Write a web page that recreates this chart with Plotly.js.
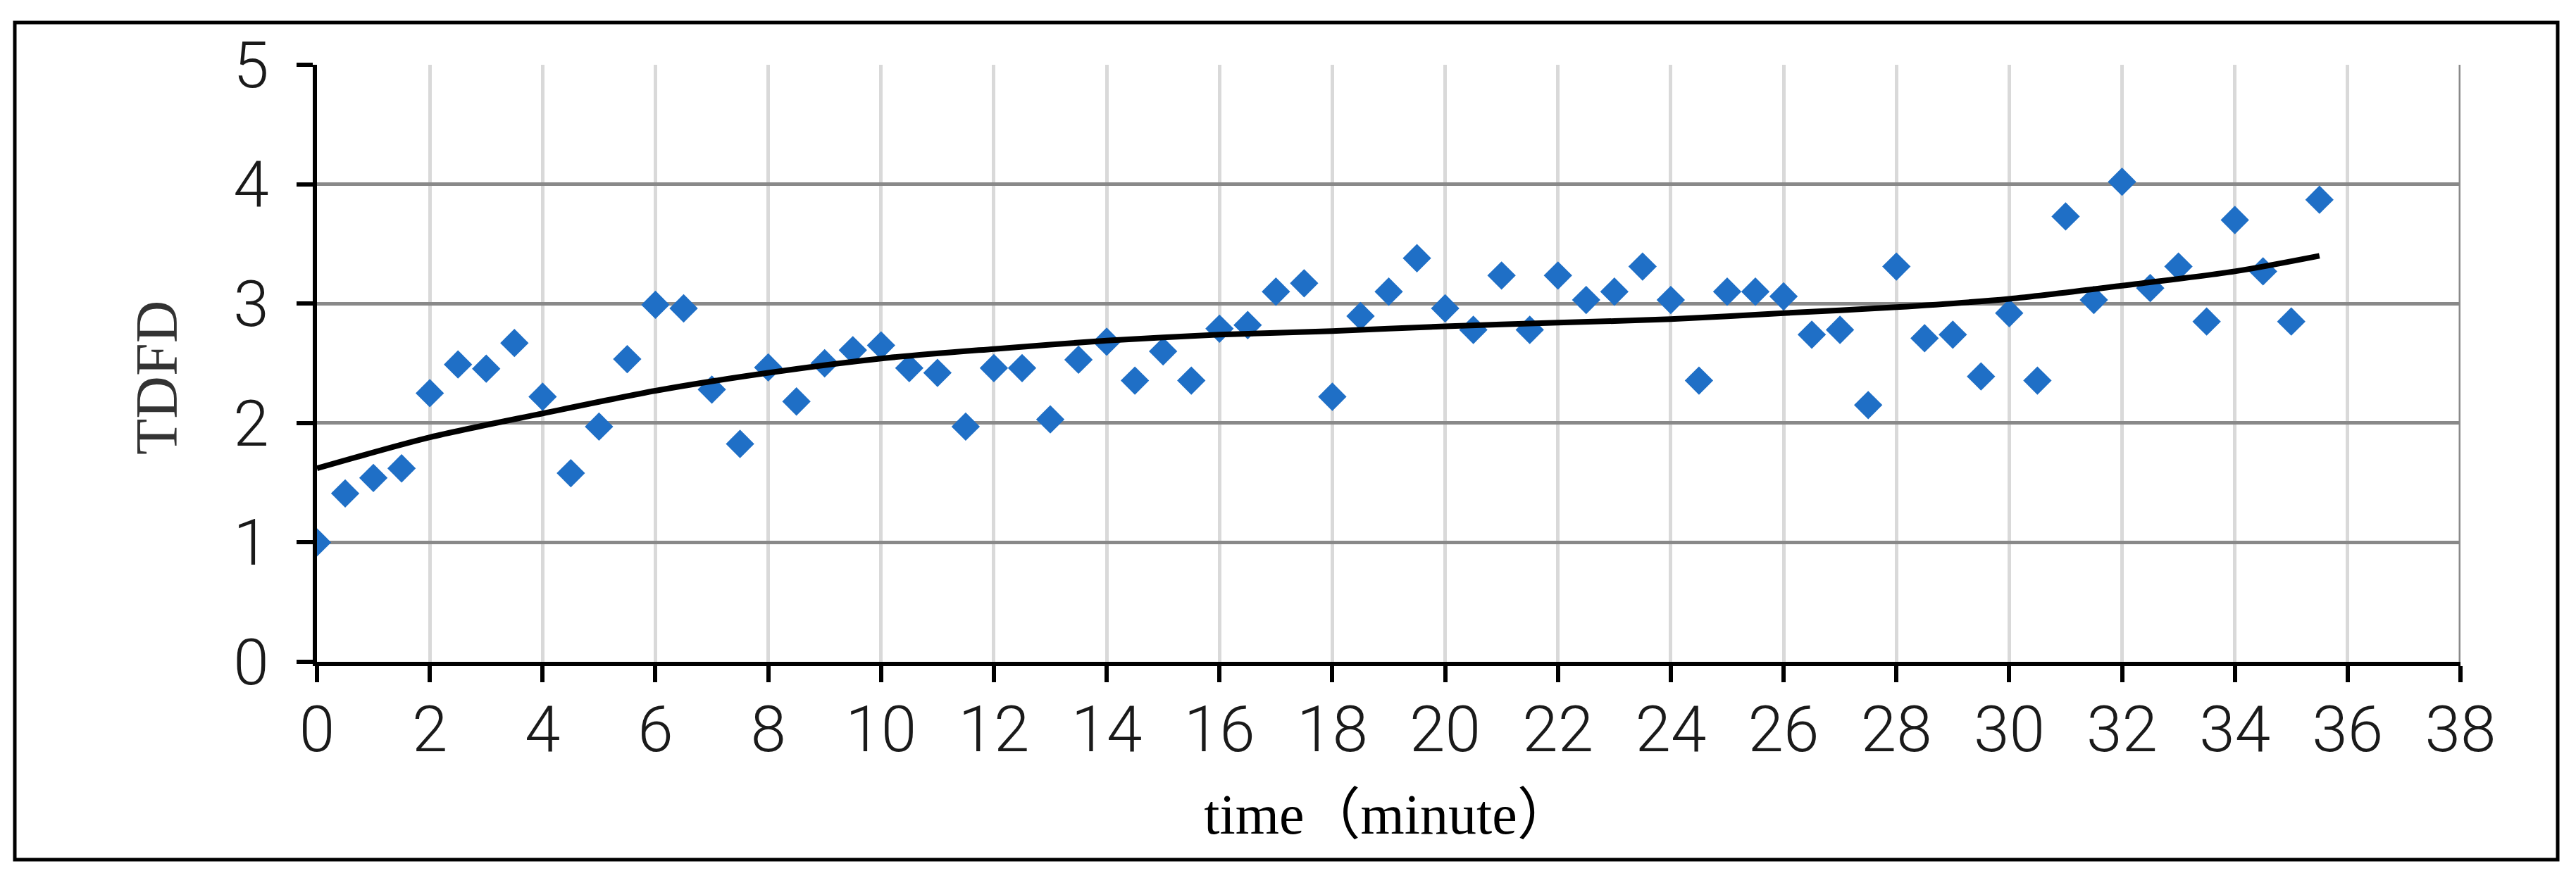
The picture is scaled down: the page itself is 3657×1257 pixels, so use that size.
<!DOCTYPE html>
<html>
<head>
<meta charset="utf-8">
<script src="https://cdn.plot.ly/plotly-3.0.1.min.js"></script>
<style>
  html, body { margin: 0; padding: 0; background: #ffffff; }
  #chart { width: 3657px; height: 1257px; }
</style>
</head>
<body>
<div id="chart"></div>
<script>
const timeMinutes = [
  0, 0.5, 1, 1.5, 2, 2.5, 3, 3.5, 4, 4.5, 5, 5.5, 6, 6.5, 7, 7.5, 8, 8.5,
  9, 9.5, 10, 10.5, 11, 11.5, 12, 12.5, 13, 13.5, 14, 14.5, 15, 15.5, 16, 16.5, 17, 17.5,
  18, 18.5, 19, 19.5, 20, 20.5, 21, 21.5, 22, 22.5, 23, 23.5, 24, 24.5, 25, 25.5, 26, 26.5,
  27, 27.5, 28, 28.5, 29, 29.5, 30, 30.5, 31, 31.5, 32, 32.5, 33, 33.5, 34, 34.5, 35, 35.5
];
const tdfdValues = [
  1.00, 1.41, 1.54, 1.62, 2.25, 2.49, 2.455, 2.67, 2.22, 1.58, 1.97, 2.535, 2.99, 2.96, 2.28, 1.825, 2.465, 2.18,
  2.50, 2.61, 2.65, 2.46, 2.42, 1.97, 2.46, 2.46, 2.03, 2.53, 2.68, 2.355, 2.60, 2.355, 2.79, 2.82, 3.10, 3.17,
  2.22, 2.895, 3.10, 3.38, 2.96, 2.78, 3.235, 2.78, 3.235, 3.03, 3.10, 3.31, 3.03, 2.355, 3.10, 3.10, 3.06, 2.74,
  2.78, 2.15, 3.31, 2.71, 2.74, 2.39, 2.92, 2.355, 3.73, 3.03, 4.02, 3.13, 3.31, 2.85, 3.70, 3.27, 2.85, 3.87
];

// Trend line
const trendTime = [0, 2, 4, 6, 8, 10, 12, 14, 16, 18, 20, 22, 24, 26, 28, 30, 32, 34, 35.5];
const trendValues = [1.62, 1.88, 2.08, 2.27, 2.42, 2.54, 2.62, 2.69, 2.74, 2.77, 2.81, 2.84, 2.87, 2.92, 2.97, 3.04, 3.15, 3.27, 3.40];

// Axis labels
const xTitle = 'time（minute）';
const yTitle = 'TDFD';
const xTickVals = [0, 2, 4, 6, 8, 10, 12, 14, 16, 18, 20, 22, 24, 26, 28, 30, 32, 34, 36, 38];
const yTickVals = [0, 1, 2, 3, 4, 5];

const W = 3657, H = 1257;
const L = 450, R = 3493, T = 92, B = 940;
const pw = R - L, ph = B - T;
const px = v => (v - L) / pw;
const py = v => (B - v) / ph;

const traces = [
  {
    type: 'scatter', mode: 'markers',
    x: timeMinutes, y: tdfdValues,
    marker: { symbol: 'diamond', size: 31, color: '#1f6fc6', line: { width: 0 } },
    hoverinfo: 'x+y', showlegend: false
  },
  {
    type: 'scatter', mode: 'lines',
    x: trendTime, y: trendValues,
    line: { color: '#000000', width: 8, shape: 'spline', smoothing: 0.8 },
    hoverinfo: 'skip', showlegend: false
  }
];

const tickFont = { family: 'Roboto, "Liberation Sans", Arial, sans-serif', size: 91, weight: 300, color: '#1a1a1a' };

const layout = {
  width: W, height: H,
  margin: { l: L, r: W - R, t: T, b: H - B, pad: 0 },
  paper_bgcolor: '#ffffff', plot_bgcolor: '#ffffff',
  showlegend: false,
  xaxis: {
    range: [0, 38], tickmode: 'array', tickvals: xTickVals,
    showgrid: true, gridcolor: '#d9d9d9', gridwidth: 5,
    zeroline: false,
    showline: true, linecolor: '#000000', linewidth: 6,
    ticks: 'outside', ticklen: 23, tickwidth: 6, tickcolor: '#000000',
    tickfont: tickFont, ticklabelstandoff: -11,
    automargin: false, fixedrange: true,
    title: { text: xTitle, font: { family: '"Liberation Serif", "Times New Roman", "Noto Sans CJK SC", serif', size: 80, color: '#000000' }, standoff: 42 }
  },
  yaxis: {
    range: [0, 5], tickmode: 'array', tickvals: yTickVals,
    showgrid: true, gridcolor: '#898989', gridwidth: 5,
    zeroline: false,
    showline: true, linecolor: '#000000', linewidth: 6,
    ticks: 'outside', ticklen: 23, tickwidth: 6, tickcolor: '#000000',
    tickfont: tickFont, ticklabelstandoff: 21,
    automargin: false, fixedrange: true
  },
  annotations: [
    { text: yTitle, xref: 'paper', yref: 'paper', x: px(222), y: py(537),
      xanchor: 'center', yanchor: 'middle', textangle: -90, showarrow: false,
      font: { family: '"Liberation Serif", "Times New Roman", serif', size: 84, color: '#333333' } }
  ],
  shapes: [
    { type: 'line', xref: 'x', yref: 'y', x0: 38, x1: 38, y0: 0, y1: 5, layer: 'below',
      line: { color: '#898989', width: 5 } },
    { type: 'rect', xref: 'paper', yref: 'paper',
      x0: px(21), x1: px(3631), y0: py(1221), y1: py(32),
      line: { color: '#000000', width: 5 }, fillcolor: 'rgba(0,0,0,0)' }
  ]
};

Plotly.newPlot('chart', traces, layout, { staticPlot: true, displayModeBar: false });
</script>
</body>
</html>
